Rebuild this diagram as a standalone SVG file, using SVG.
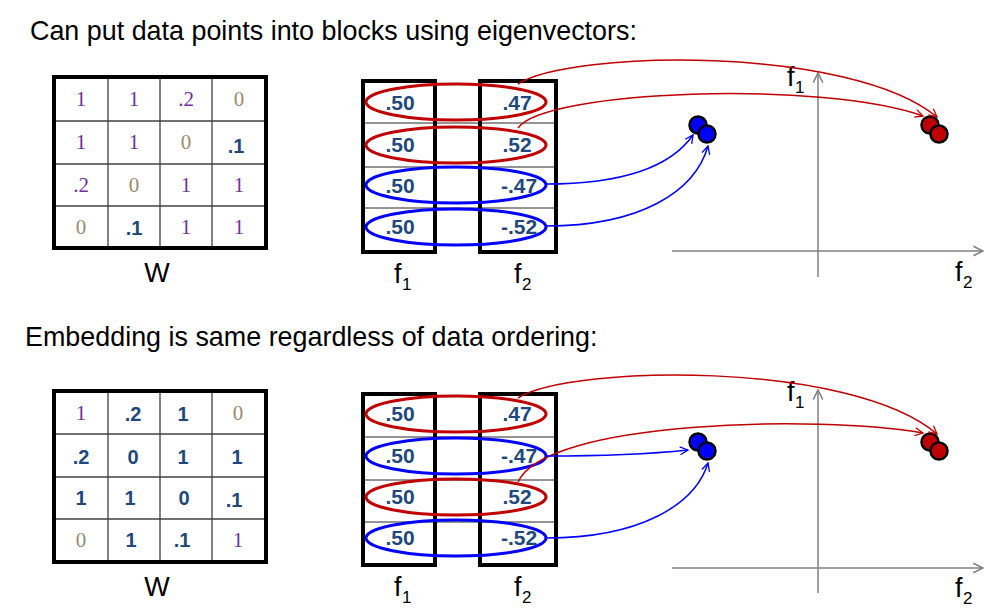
<svg xmlns="http://www.w3.org/2000/svg" width="992" height="612" viewBox="0 0 992 612">
<defs>
<style>
.title{font-family:"Liberation Sans",Arial,sans-serif;font-size:26.9px;fill:#000}
.lbl{font-family:"Liberation Sans",Arial,sans-serif;font-size:27px;fill:#000}
.sub{font-family:"Liberation Sans",Arial,sans-serif;font-size:17px;fill:#000}
.p{font-family:"Liberation Serif","Times New Roman",serif;font-size:21px;fill:#7030A0;text-anchor:middle}
.t{font-family:"Liberation Serif","Times New Roman",serif;font-size:21px;fill:#9C8B70;text-anchor:middle}
.b{font-family:"Liberation Sans",Arial,sans-serif;font-size:20px;font-weight:bold;fill:#1F497D;text-anchor:middle}
.v{font-family:"Liberation Sans",Arial,sans-serif;font-size:21px;font-weight:bold;fill:#1F497D;text-anchor:middle}
.outer{fill:none;stroke:#000;stroke-width:4}
.grid{stroke:#404040;stroke-width:1.3}
.rowl{stroke:#707070;stroke-width:1.3}
.col{fill:none;stroke:#000;stroke-width:4}
.er{fill:none;stroke:#C00000;stroke-width:3}
.eb{fill:none;stroke:#0000FF;stroke-width:3}
.cr{fill:none;stroke:#C00000;stroke-width:1.5}
.cb{fill:none;stroke:#0000FF;stroke-width:1.5}
.axis{fill:none;stroke:#808080;stroke-width:1.5}
.dr{fill:#C00000;stroke:#000;stroke-width:2.5}
.db{fill:#0000FF;stroke:#000;stroke-width:2.5}
</style>
<marker id="ar" viewBox="0 0 10 10" refX="9" refY="5" markerWidth="10" markerHeight="10" markerUnits="userSpaceOnUse" orient="auto"><path d="M1,1 L9,5 L1,9" fill="none" stroke="#C00000" stroke-width="1.3"/></marker>
<marker id="ab" viewBox="0 0 10 10" refX="9" refY="5" markerWidth="10" markerHeight="10" markerUnits="userSpaceOnUse" orient="auto"><path d="M1,1 L9,5 L1,9" fill="none" stroke="#0000FF" stroke-width="1.3"/></marker>
<marker id="ag" viewBox="0 0 10 10" refX="9" refY="5" markerWidth="12" markerHeight="12" markerUnits="userSpaceOnUse" orient="auto"><path d="M1,1 L9,5 L1,9" fill="none" stroke="#808080" stroke-width="1.3"/></marker>
</defs>

<text class="title" x="30" y="40">Can put data points into blocks using eigenvectors:</text>
<text class="title" x="25" y="346">Embedding is same regardless of data ordering:</text>

<!-- Top matrix W -->
<g id="W_top">
<line class="grid" x1="108" y1="77" x2="108" y2="248"/>
<line class="grid" x1="160" y1="77" x2="160" y2="248"/>
<line class="grid" x1="212" y1="77" x2="212" y2="248"/>
<line class="grid" x1="54" y1="121" x2="266" y2="121"/>
<line class="grid" x1="54" y1="164" x2="266" y2="164"/>
<line class="grid" x1="54" y1="206" x2="266" y2="206"/>
<rect class="outer" x="54" y="77" width="212" height="171"/>
<text class="p" x="81" y="106">1</text><text class="p" x="134" y="106">1</text><text class="p" x="186" y="106">.2</text><text class="t" x="239" y="106">0</text>
<text class="p" x="81" y="149">1</text><text class="p" x="134" y="149">1</text><text class="t" x="186" y="149">0</text><text class="b" x="236" y="153">.1</text>
<text class="p" x="81" y="192">.2</text><text class="t" x="134" y="192">0</text><text class="p" x="186" y="192">1</text><text class="p" x="239" y="192">1</text>
<text class="t" x="81" y="234">0</text><text class="b" x="134" y="235">.1</text><text class="p" x="186" y="234">1</text><text class="p" x="239" y="234">1</text>
<text class="lbl" x="157" y="282" text-anchor="middle">W</text>
</g>

<!-- Top columns -->
<g id="F_top">
<line class="rowl" x1="363" y1="123" x2="558" y2="123"/>
<line class="rowl" x1="363" y1="167" x2="558" y2="167"/>
<line class="rowl" x1="363" y1="208" x2="558" y2="208"/>
<rect class="col" x="363" y="81" width="72" height="171"/>
<rect class="col" x="480" y="81" width="76" height="171"/>
<text class="v" x="400" y="110">.50</text><text class="v" x="517" y="110">.47</text>
<text class="v" x="400" y="152">.50</text><text class="v" x="517" y="152">.52</text>
<text class="v" x="400" y="193">.50</text><text class="v" x="519" y="193">-.47</text>
<text class="v" x="400" y="234">.50</text><text class="v" x="519" y="234">-.52</text>
<ellipse class="er" cx="456" cy="102" rx="90" ry="18"/>
<ellipse class="er" cx="456" cy="145" rx="90" ry="18"/>
<ellipse class="eb" cx="456" cy="185" rx="90" ry="18"/>
<ellipse class="eb" cx="456" cy="227" rx="90" ry="18"/>
<text class="lbl" x="394" y="283">f</text><text class="sub" x="402" y="290">1</text>
<text class="lbl" x="514" y="283">f</text><text class="sub" x="522" y="290">2</text>
</g>

<!-- Top plot -->
<g id="plot_top">
<line class="axis" x1="818" y1="277" x2="818" y2="73" marker-end="url(#ag)"/>
<line class="axis" x1="672" y1="251" x2="983" y2="251" marker-end="url(#ag)"/>
<text class="lbl" x="787" y="86">f</text><text class="sub" x="795" y="93">1</text>
<text class="lbl" x="955" y="281">f</text><text class="sub" x="963" y="288">2</text>
<circle class="db" cx="698" cy="125" r="8.5"/>
<circle class="db" cx="707" cy="134" r="8.5"/>
<circle class="dr" cx="930" cy="125" r="8.5"/>
<circle class="dr" cx="939" cy="134" r="8.5"/>
</g>

<!-- Bottom matrix W -->
<g id="W_bottom">
<line class="grid" x1="108" y1="391" x2="108" y2="562"/>
<line class="grid" x1="160" y1="391" x2="160" y2="562"/>
<line class="grid" x1="212" y1="391" x2="212" y2="562"/>
<line class="grid" x1="54" y1="434" x2="266" y2="434"/>
<line class="grid" x1="54" y1="477" x2="266" y2="477"/>
<line class="grid" x1="54" y1="519" x2="266" y2="519"/>
<rect class="outer" x="54" y="391" width="212" height="171"/>
<text class="p" x="81" y="420">1</text><text class="b" x="133" y="421">.2</text><text class="b" x="183" y="421">1</text><text class="t" x="238" y="420">0</text>
<text class="b" x="81" y="464">.2</text><text class="b" x="133" y="464">0</text><text class="b" x="183" y="464">1</text><text class="b" x="237" y="464">1</text>
<text class="b" x="81" y="505">1</text><text class="b" x="130" y="505">1</text><text class="b" x="184" y="505">0</text><text class="b" x="234" y="507">.1</text>
<text class="t" x="81" y="547">0</text><text class="b" x="131" y="547">1</text><text class="b" x="182" y="547">.1</text><text class="p" x="238" y="547">1</text>
<text class="lbl" x="157" y="596" text-anchor="middle">W</text>
</g>

<!-- Bottom columns -->
<g id="F_bottom">
<line class="rowl" x1="363" y1="437" x2="558" y2="437"/>
<line class="rowl" x1="363" y1="480" x2="558" y2="480"/>
<line class="rowl" x1="363" y1="522" x2="558" y2="522"/>
<rect class="col" x="363" y="394" width="72" height="171"/>
<rect class="col" x="480" y="394" width="76" height="171"/>
<text class="v" x="400" y="421">.50</text><text class="v" x="517" y="421">.47</text>
<text class="v" x="400" y="463">.50</text><text class="v" x="519" y="463">-.47</text>
<text class="v" x="400" y="504">.50</text><text class="v" x="517" y="504">.52</text>
<text class="v" x="400" y="545">.50</text><text class="v" x="519" y="545">-.52</text>
<ellipse class="er" cx="456" cy="414" rx="90" ry="18"/>
<ellipse class="eb" cx="456" cy="456" rx="90" ry="18"/>
<ellipse class="er" cx="456" cy="497" rx="90" ry="18"/>
<ellipse class="eb" cx="456" cy="538" rx="90" ry="18"/>
<text class="lbl" x="394" y="596">f</text><text class="sub" x="402" y="603">1</text>
<text class="lbl" x="514" y="596">f</text><text class="sub" x="522" y="603">2</text>
</g>

<!-- Bottom plot -->
<g id="plot_bottom">
<line class="axis" x1="818" y1="593" x2="818" y2="390" marker-end="url(#ag)"/>
<line class="axis" x1="672" y1="568" x2="983" y2="568" marker-end="url(#ag)"/>
<text class="lbl" x="787" y="401">f</text><text class="sub" x="795" y="408">1</text>
<text class="lbl" x="955" y="597">f</text><text class="sub" x="963" y="604">2</text>
<circle class="db" cx="698" cy="442" r="8.5"/>
<circle class="db" cx="707" cy="451" r="8.5"/>
<circle class="dr" cx="930" cy="442" r="8.5"/>
<circle class="dr" cx="939" cy="451" r="8.5"/>
</g>

<g id="connectors">
<path class="cr" d="M518,84 C570,50 850,45 937,117" marker-end="url(#ar)"/>
<path class="cr" d="M518,128 C545,90 820,80 923,116" marker-end="url(#ar)"/>
<path class="cb" d="M546,184 C620,184 670,168 693,135" marker-end="url(#ab)"/>
<path class="cb" d="M546,226 C640,226 695,192 708,146" marker-end="url(#ab)"/>
<path class="cr" d="M518,398 C570,365 850,360 937,434" marker-end="url(#ar)"/>
<path class="cr" d="M518,482 C545,420 820,415 923,433" marker-end="url(#ar)"/>
<path class="cb" d="M546,456 C600,456 650,454 688,450" marker-end="url(#ab)"/>
<path class="cb" d="M546,538 C640,538 695,505 708,463" marker-end="url(#ab)"/>
</g>
</svg>
